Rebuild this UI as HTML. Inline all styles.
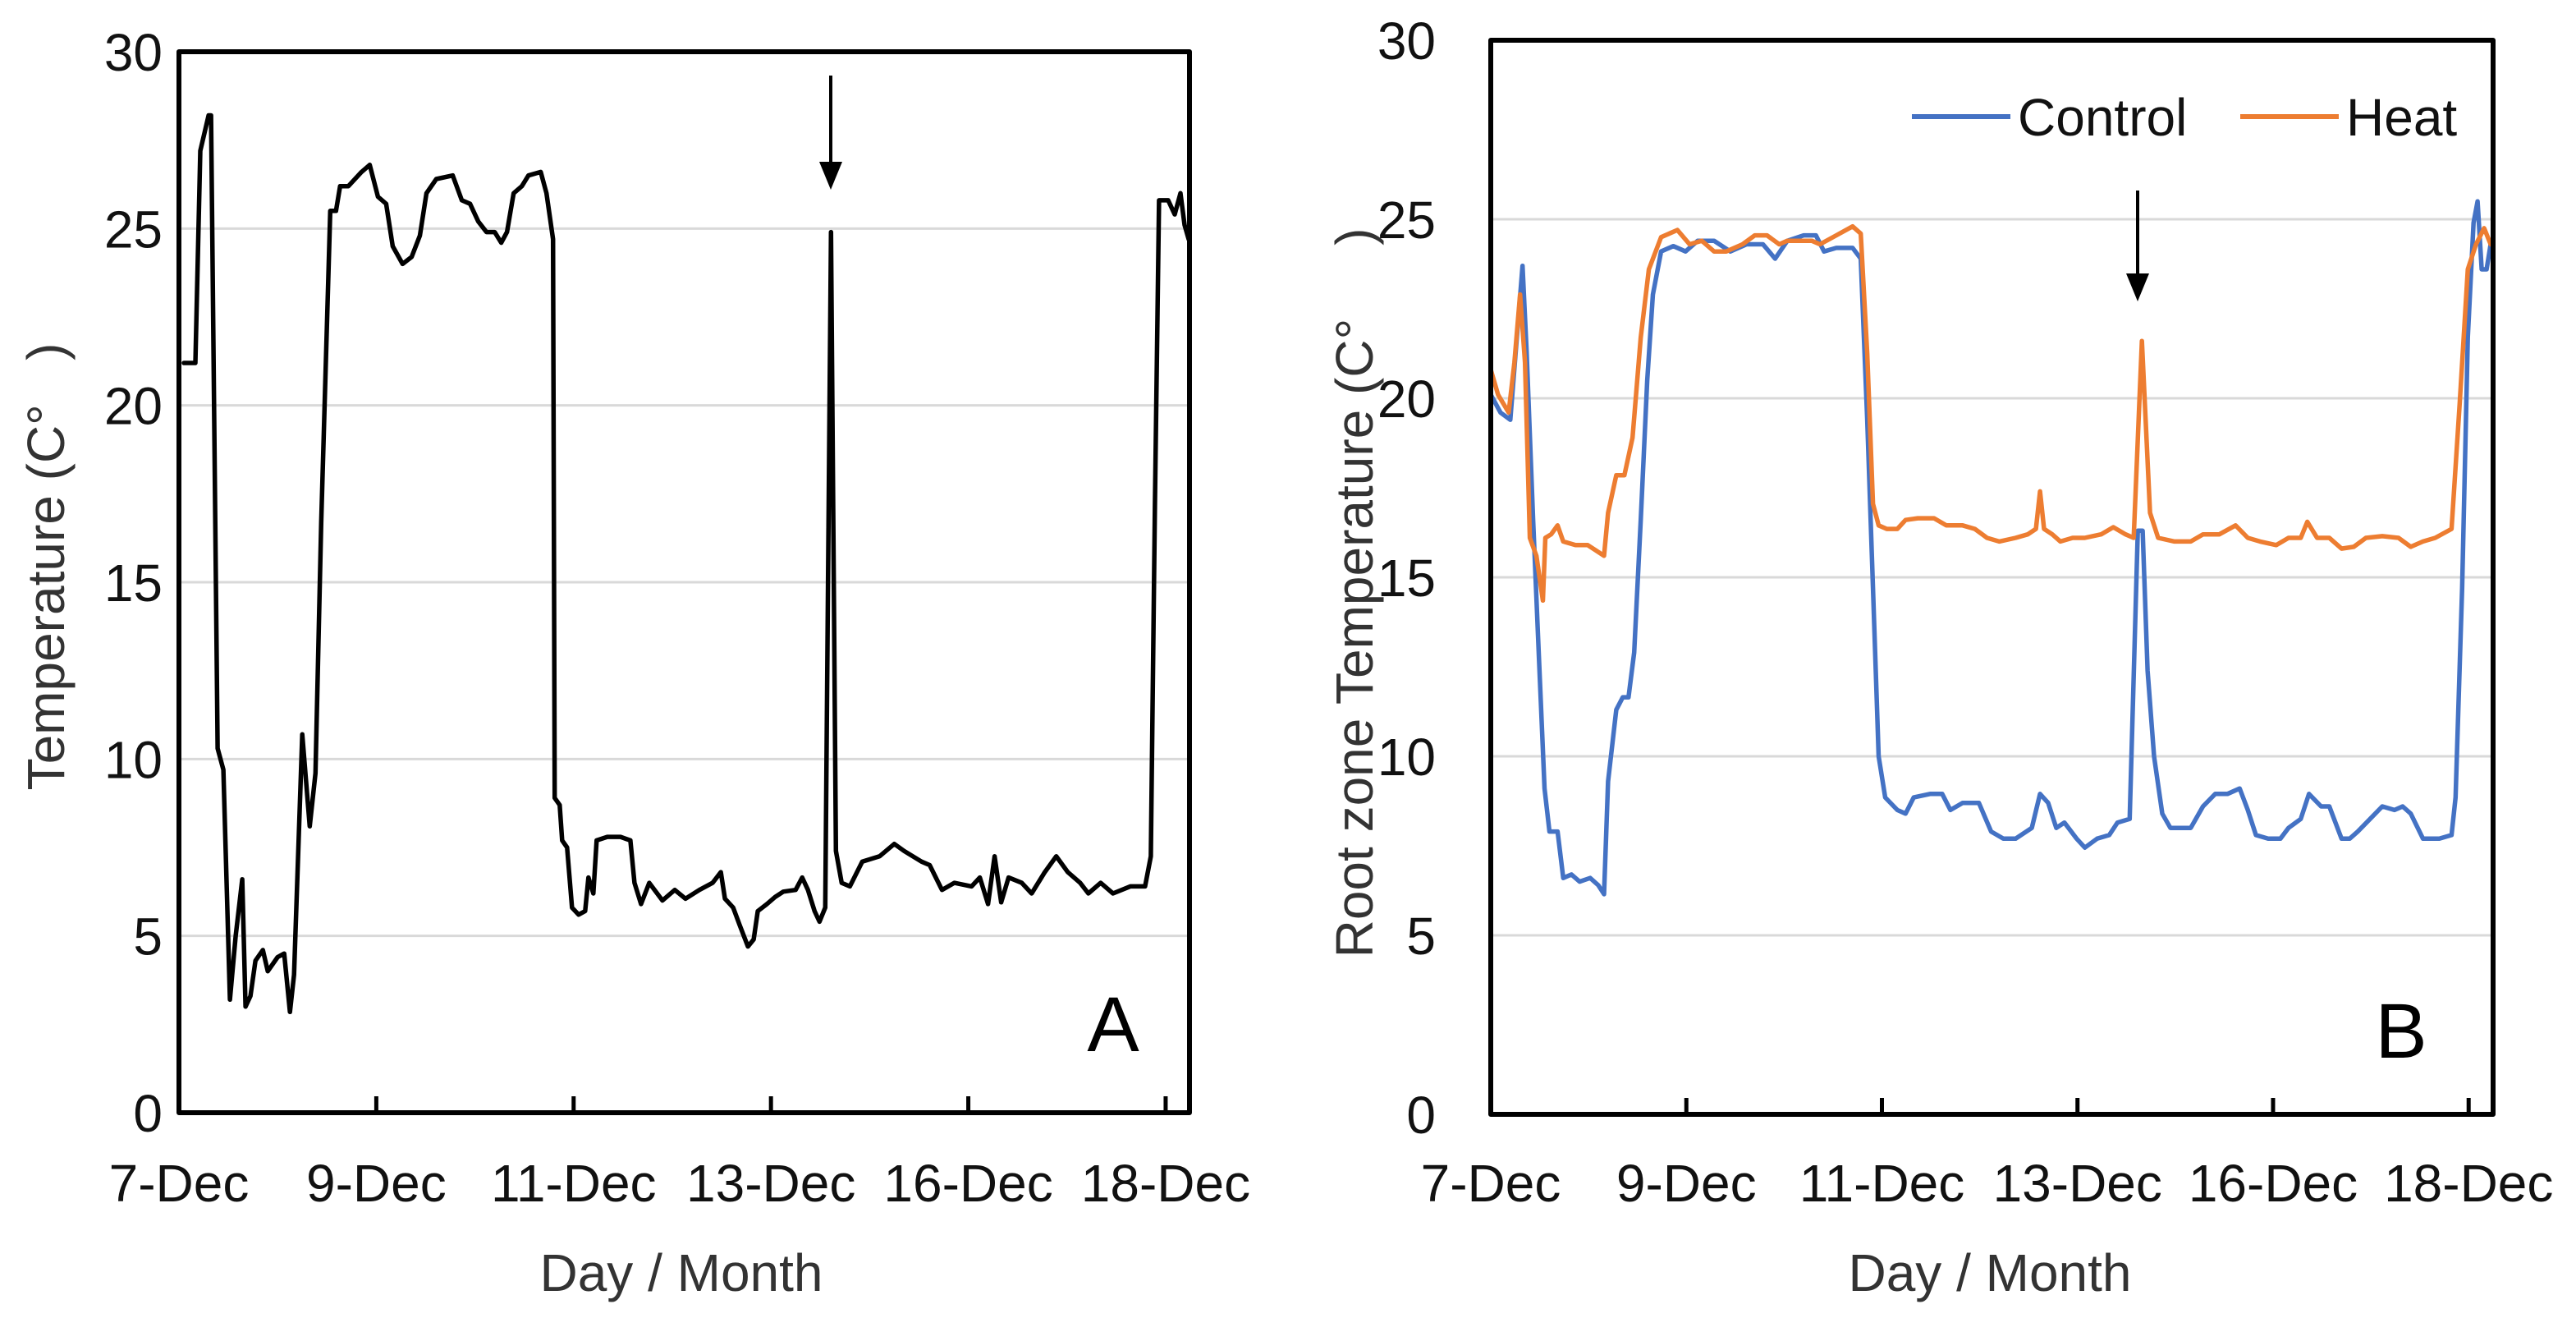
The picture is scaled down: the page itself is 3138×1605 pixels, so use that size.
<!DOCTYPE html>
<html><head><meta charset="utf-8"><title>Temperature charts</title>
<style>
html,body{margin:0;padding:0;background:#fff;}
svg{display:block;font-family:"Liberation Sans",Arial,sans-serif;}
</style></head>
<body>
<svg id="chart" width="3138" height="1605" viewBox="0 0 3138 1605" xmlns="http://www.w3.org/2000/svg">
<rect width="3138" height="1605" fill="#fff"/>
<g id="panelA"></g>
<g id="panelB"></g>
</svg>
<script>
// x = reading index (240 readings per tick interval)
const tickLabels = ["7-Dec","9-Dec","11-Dec","13-Dec","16-Dec","18-Dec"];
const tickIdx = [0,240,480,720,960,1200];
const yTicks = [0,5,10,15,20,25,30];

const aX = [6,20,26,36,39,47,54,62,69,77,81,87,93,102,108,120,128,135,140,150,159,166,173,184,191,196,206,222,232,242,252,260,272,283,293,301,313,333,344,354,364,374,384,392,399,407,417,425,440,447,455,457,463,466,472,478,486,494,498,504,508,521,537,549,554,562,572,588,603,616,633,649,659,664,674,682,692,699,704,715,725,735,750,758,765,773,779,786,793,799,806,816,831,852,870,882,903,913,928,943,964,974,984,992,1000,1009,1025,1037,1053,1067,1081,1096,1106,1121,1136,1157,1175,1182,1187,1192,1203,1211,1218,1223,1228];
const aY = [21.2,21.2,27.2,28.2,28.2,10.3,9.7,3.2,5.0,6.6,3.0,3.3,4.3,4.6,4.0,4.4,4.5,2.85,3.9,10.7,8.1,9.6,16.7,25.5,25.5,26.2,26.2,26.6,26.8,25.9,25.7,24.5,24.0,24.2,24.8,26.0,26.4,26.5,25.8,25.7,25.2,24.9,24.9,24.6,24.9,26.0,26.2,26.5,26.6,26.0,24.7,8.9,8.7,7.7,7.5,5.8,5.6,5.7,6.65,6.2,7.7,7.8,7.8,7.7,6.5,5.9,6.5,6.0,6.3,6.05,6.3,6.5,6.8,6.05,5.8,5.3,4.7,4.9,5.7,5.9,6.1,6.25,6.3,6.65,6.3,5.7,5.4,5.8,24.9,7.4,6.5,6.4,7.1,7.25,7.6,7.4,7.1,7.0,6.3,6.5,6.4,6.65,5.9,7.25,5.95,6.65,6.5,6.2,6.8,7.25,6.8,6.5,6.2,6.5,6.2,6.4,6.4,7.25,17.2,25.8,25.8,25.4,26.0,25.1,24.7];

const ctlX = [0,12,24,32,39,44,52,59,66,72,82,89,99,109,122,132,139,144,154,162,169,176,184,192,199,209,224,239,254,274,294,314,334,349,364,384,399,409,424,444,454,462,469,476,484,499,509,519,539,554,564,579,599,614,629,644,664,674,684,694,704,719,729,744,759,769,784,794,800,806,814,824,834,859,874,889,904,919,929,939,954,969,979,994,1004,1019,1029,1044,1054,1064,1079,1094,1109,1119,1129,1144,1164,1179,1184,1192,1199,1206,1211,1216,1222,1227];
const ctlY = [20.1,19.6,19.4,21.7,23.7,21.3,16.6,12.8,9.1,7.9,7.9,6.6,6.7,6.5,6.6,6.4,6.15,9.3,11.3,11.65,11.65,12.9,16.6,20.5,22.9,24.1,24.25,24.1,24.4,24.4,24.1,24.3,24.3,23.9,24.4,24.55,24.55,24.1,24.2,24.2,23.9,19.4,14.7,10.0,8.85,8.5,8.4,8.85,8.95,8.95,8.5,8.7,8.7,7.9,7.7,7.7,8.0,8.95,8.7,8.0,8.15,7.7,7.45,7.7,7.8,8.15,8.25,16.3,16.3,12.4,10.0,8.4,8.0,8.0,8.6,8.95,8.95,9.1,8.5,7.8,7.7,7.7,8.0,8.25,8.95,8.6,8.6,7.7,7.7,7.9,8.25,8.6,8.5,8.6,8.4,7.7,7.7,7.8,8.85,14.7,21.7,24.9,25.5,23.6,23.6,24.3];

const heatX = [0,9,22,29,36,42,48,56,64,67,74,82,89,104,119,129,139,144,154,164,174,184,194,209,229,244,259,274,289,309,324,339,354,364,379,394,404,424,444,454,462,469,476,486,499,509,524,544,559,579,594,609,624,644,659,669,674,679,689,699,714,729,749,764,779,789,799,809,819,839,859,874,894,914,929,944,964,979,994,1002,1014,1029,1044,1059,1074,1094,1114,1129,1144,1159,1179,1189,1199,1209,1219,1227];
const heatY = [20.8,20.1,19.6,21.0,22.9,21.0,16.1,15.6,14.35,16.1,16.2,16.45,16.0,15.9,15.9,15.75,15.6,16.8,17.85,17.85,18.9,21.7,23.6,24.5,24.7,24.3,24.4,24.1,24.1,24.3,24.55,24.55,24.3,24.4,24.4,24.4,24.3,24.55,24.8,24.6,21.25,17.05,16.45,16.35,16.35,16.6,16.65,16.65,16.45,16.45,16.35,16.1,16.0,16.1,16.2,16.35,17.4,16.35,16.2,16.0,16.1,16.1,16.2,16.4,16.2,16.1,21.6,16.8,16.1,16.0,16.0,16.2,16.2,16.45,16.1,16.0,15.9,16.1,16.1,16.55,16.1,16.1,15.8,15.85,16.1,16.15,16.1,15.85,16.0,16.1,16.35,19.85,23.6,24.3,24.75,24.3];

const NS = "http://www.w3.org/2000/svg";
function mk(parent, tag, attrs, text){
  const e = document.createElementNS(NS, tag);
  for (const k in attrs) e.setAttribute(k, attrs[k]);
  if (text !== undefined) e.textContent = text;
  parent.appendChild(e);
  return e;
}

function drawPanel(g, P, opts){
  const xS = i => P.left + i / P.xMax * (P.right - P.left);
  const yS = v => P.bottom - v / 30 * (P.bottom - P.top);
  yTicks.forEach(t => {
    if (t === 0 || t === 30) return;
    const l = mk(g, "line", {x1:P.left, x2:P.right, y1:yS(t), y2:yS(t), stroke:"#d9d9d9", "stroke-width":3});
    
    
  });
  yTicks.forEach(t => {
    const tx = mk(g, "text", {x:P.yLabelX, y:yS(t)+23, "text-anchor":"end", "font-size":64, fill:"#111"}, String(t));
    
    
  });
  tickIdx.forEach((ti, k) => {
    const x = xS(ti);
    if (k > 0) {
      const tk = mk(g, "line", {x1:x, x2:x, y1:P.bottom, y2:P.bottom-20, stroke:"#000", "stroke-width":5});
      
      
    }
    const tx = mk(g, "text", {x:x, y:P.xLabelY, "text-anchor":"middle", "font-size":64, fill:"#111"}, tickLabels[k]);
    
    
  });
  opts.series.forEach(s => {
    let d = "";
    s.x.forEach((xi, i) => { d += (i ? "L" : "M") + xS(xi).toFixed(1) + "," + yS(s.y[i]).toFixed(1); });
    const p = mk(g, "path", {d:d, fill:"none", stroke:s.color, "stroke-width":s.w, "stroke-linejoin":"round", "stroke-linecap":"round"});
    
    
  });
  const fr = mk(g, "rect", {x:P.left, y:P.top, width:P.right-P.left, height:P.bottom-P.top, fill:"none", stroke:"#000", "stroke-width":6, "stroke-linejoin":"round"});
  
  
  const ar = mk(g, "g", {});
  
  
  mk(ar, "line", {x1:P.arrowX, x2:P.arrowX, y1:P.arrowTop, y2:P.arrowTip-25, stroke:"#000", "stroke-width":4});
  mk(ar, "polygon", {points:(P.arrowX-14)+","+(P.arrowTip-34)+" "+(P.arrowX+14)+","+(P.arrowTip-34)+" "+P.arrowX+","+P.arrowTip, fill:"#000"});
  const xt = mk(g, "text", {x:P.xTitleX, y:P.xTitleY, "text-anchor":"middle", "font-size":64, fill:"#333"}, "Day / Month");
  
  
  const yt = mk(g, "text", {x:0, y:0, "text-anchor":"middle", "font-size":64, fill:"#333", "xml:space":"preserve", transform:"translate("+P.yTitleX+","+P.yTitleY+") rotate(-90)"}, opts.yTitle);
  yt.style.whiteSpace = "pre";
  
  
  const pl = mk(g, "text", {x:P.letterX, y:P.letterY, "text-anchor":"middle", "font-size":95, fill:"#000"}, opts.letter);
  
  
}

drawPanel(document.getElementById("panelA"),
  {left:218,right:1449,top:63,bottom:1355,xMax:1229,yLabelX:198,xLabelY:1463,
   arrowX:1012,arrowTop:92,arrowTip:231,xTitleX:830,xTitleY:1572,yTitleX:78,yTitleY:690,letterX:1356,letterY:1280},
  {yTitle:"Temperature (C°   )", letter:"A",
   series:[{x:aX,y:aY,color:"#000",w:5.5,name:"air-temperature-line"}]});

drawPanel(document.getElementById("panelB"),
  {left:1816,right:3037,top:49,bottom:1357,xMax:1230,yLabelX:1749,xLabelY:1463,
   arrowX:2604,arrowTop:232,arrowTip:367,xTitleX:2424,xTitleY:1572,yTitleX:1672,yTitleY:722,letterX:2925,letterY:1288},
  {yTitle:"Root zone Temperature (C°     )", letter:"B",
   series:[{x:ctlX,y:ctlY,color:"#4472C4",w:5.5,name:"control-line"},
           {x:heatX,y:heatY,color:"#ED7D31",w:5.5,name:"heat-line"}]});

const gB = document.getElementById("panelB");
const lg = mk(gB, "g", {});


const le1 = mk(lg, "g", {});


mk(le1, "line", {x1:2329, x2:2449, y1:142, y2:142, stroke:"#4472C4", "stroke-width":6});
mk(le1, "text", {x:2458, y:165, "font-size":64, fill:"#111"}, "Control");
const le2 = mk(lg, "g", {});


mk(le2, "line", {x1:2729, x2:2849, y1:142, y2:142, stroke:"#ED7D31", "stroke-width":6});
mk(le2, "text", {x:2858, y:165, "font-size":64, fill:"#111"}, "Heat");
</script>
</body></html>
